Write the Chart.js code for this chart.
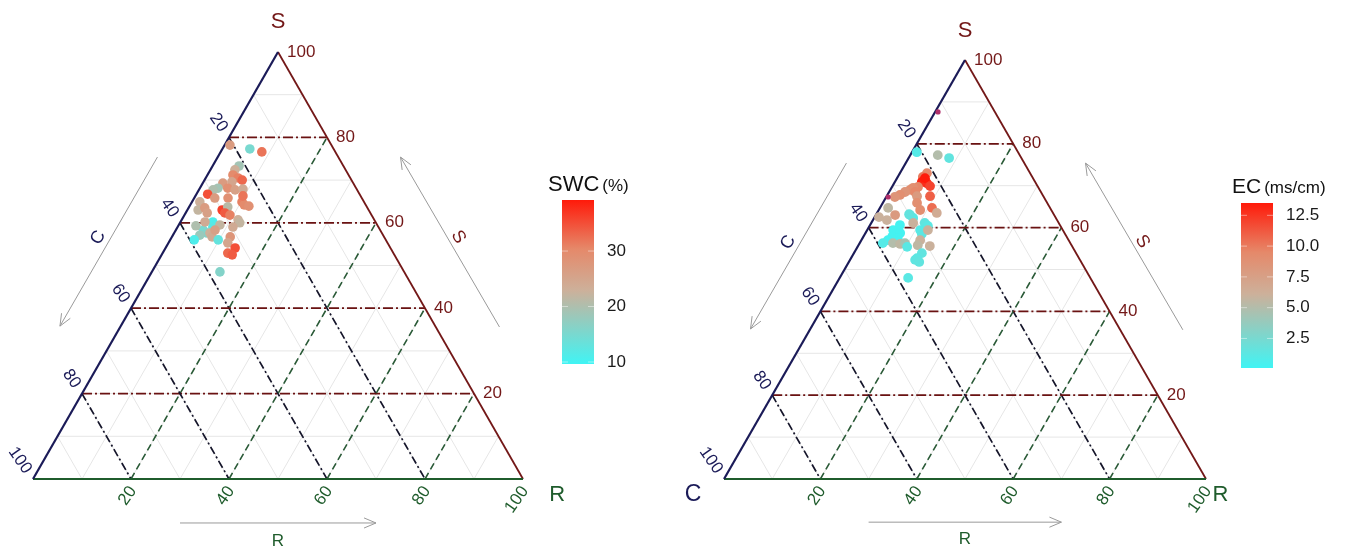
<!DOCTYPE html>
<html>
<head>
<meta charset="utf-8">
<script src="https://cdn.jsdelivr.net/npm/chart.js@4.4.1/dist/chart.umd.min.js"></script>
<style>
body{margin:0;background:#fff;}
#wrap{position:relative;width:1354px;height:546px;overflow:hidden;}
canvas{position:absolute;top:0;}
#left{left:0;}
#right{left:677px;}
</style>
</head>
<body>
<div id="wrap">
<canvas id="left" width="677" height="546"></canvas>
<canvas id="right" width="677" height="546"></canvas>
</div>
<script>
// ternary axes
var ternSteps = [10, 20, 30, 40, 50, 60, 70, 80, 90];
var ternMajor = [20, 40, 60, 80];
var ternTicks = [20, 40, 60, 80, 100];

// left panel: soil water content
var swcS = [78.2,77.3,76.6,73.3,72.4,71.2,70.5,70.0,69.6,69.3,68.1,67.7,66.7,68.1,67.7,67.9,65.8,64.9,64.9,64.2,63.9,63.0,63.7,62.3,61.8,63.0,63.5,62.3,60.2,59.0,58.3,57.6,57.1,57.6,56.7,56.0,56.0,60.7,60.0,59.0,56.7,55.3,54.1,52.9,52.5,48.5,65.8,60.2,59.5,59.3,58.3,66.3];
var swcC = [20.7,17.1,15.0,21.3,22.6,23.6,22.9,22.3,24.6,26.6,28.2,29.4,31.0,26.2,24.9,23.2,27.3,33.5,24.9,24.8,24.0,29.9,28.4,29.7,28.9,34.8,33.2,33.3,33.2,33.8,36.1,35.7,37.4,35.1,35.1,39.1,34.2,27.8,27.8,29.7,31.4,32.6,31.7,33.8,33.1,37.6,30.0,34.8,32.1,37.1,33.7,24.0];
var swcR = [1.1,5.6,8.4,5.4,5.0,5.2,6.6,7.7,5.8,4.1,3.7,2.9,2.3,5.7,7.4,8.9,6.9,1.6,10.2,11.0,12.1,7.1,7.9,8.0,9.3,2.2,3.3,4.4,6.6,7.2,5.6,6.7,5.5,7.3,8.2,4.9,9.8,11.5,12.2,11.3,11.9,12.1,14.2,13.3,14.4,13.9,4.2,5.0,8.4,3.6,8.0,9.7];
var swcVal = [27,15,32,19,23,30,31,33,25,27,19,20,35,29,26,24,29,23,31,30,29,36,21,34,31,22,27,26,11,12,15,16,18,23,24,11,13,23,22,24,28,25,35,33,34,16,27,24,22,20,26,32];
var swcTicks = [10, 20, 30];
var swcTickLabels = ["10", "20", "30"];

// right panel: electrical conductivity
var ecS = [87.6,78.0,77.3,76.6,73.0,72.1,70.9,70.6,71.8,69.9,69.7,69.5,69.0,68.5,67.8,67.3,68.5,67.5,67.5,67.3,65.9,64.7,63.5,64.7,63.0,63.0,62.3,64.2,61.8,61.1,61.1,60.4,59.4,58.5,59.4,59.4,58.7,58.7,57.8,57.0,57.5,60.6,56.3,56.3,56.1,56.3,55.4,57.0,55.8,55.6,53.9,52.7,52.3,51.8,48.0,63.2,62.5];
var ecC = [11.8,21.0,17.0,15.0,21.4,22.7,23.5,22.6,22.4,22.3,24.9,26.0,26.9,28.2,29.6,30.9,26.1,26.2,23.5,32.3,27.0,24.5,24.1,33.6,33.0,29.9,29.6,27.2,35.3,30.2,27.8,27.5,29.6,29.7,28.0,35.2,34.8,34.1,36.2,37.5,35.2,33.2,38.9,36.8,35.4,34.3,34.3,30.8,31.9,29.5,32.0,33.6,34.2,33.6,37.8,30.0,36.6];
var ecR = [0.6,1.0,5.7,8.4,5.6,5.2,5.6,6.8,5.8,7.8,5.4,4.5,4.1,3.3,2.6,1.8,5.4,6.3,9.0,0.4,7.1,10.8,12.4,1.7,4.0,7.1,8.1,8.6,2.9,8.7,11.1,12.1,11.0,11.8,12.6,5.4,6.5,7.2,6.0,5.5,7.3,6.2,4.8,6.9,8.5,9.4,10.3,12.2,12.3,14.9,14.1,13.7,13.5,14.6,14.2,6.8,0.9];
var ecVal = [13.3,1.0,5.0,1.5,9.5,10,13.2,12.8,13.5,12,9.5,9,9,8.5,9,8.5,9.5,8,11,13.3,9,10.5,6.5,5.5,8,1.5,1.2,9,6,6,1.5,1.2,1.0,1.3,6,0.3,0.3,0.3,0.3,0.3,0.3,0.3,1,5,5.5,4.5,1.2,6,5.5,6,1.5,1.3,1.4,1.5,1.2,1.6,6];
var ecTicks = [2.5, 5.0, 7.5, 10.0, 12.5];
var ecTickLabels = ["2.5", "5.0", "7.5", "10.0", "12.5"];

var FONT = '"Liberation Sans", Arial, sans-serif';
var NAVY = '#1b1b58', DRED = '#731818', DGREEN = '#1f5c2c';
var STOPS = [[0, [64,244,244]], [0.45, [205,176,154]], [0.7, [229,137,106]], [1, [255,26,10]]];

function rgb(a){ return 'rgb(' + a.map(Math.round).join(',') + ')'; }
function colourAt(f){
  f = Math.max(0, Math.min(1, f));
  for (var i = 1; i < STOPS.length; i++){
    if (f <= STOPS[i][0]){
      var a = STOPS[i-1], b = STOPS[i], t = (f - a[0]) / (b[0] - a[0]);
      return rgb([0,1,2].map(function(k){ return a[1][k] + t * (b[1][k] - a[1][k]); }));
    }
  }
  return rgb(STOPS[STOPS.length-1][1]);
}
function tern(s, c, r){ var t = s + c + r; return { x: (r + s / 2) / t, y: s / t, r: r }; }

var ternaryPlugin = {
  id: 'ternary',
  beforeDatasetsDraw: function(chart){
    var ctx = chart.ctx, xs = chart.scales.x, ys = chart.scales.y;
    function P(s, c, r){ var p = tern(s, c, r); return [xs.getPixelForValue(p.x), ys.getPixelForValue(p.y)]; }
    function seg(a, b, col, w, dash){
      ctx.beginPath(); ctx.strokeStyle = col; ctx.lineWidth = w; ctx.setLineDash(dash || []);
      ctx.moveTo(a[0], a[1]); ctx.lineTo(b[0], b[1]); ctx.stroke();
    }
    ctx.save();
    // fine grid
    ternSteps.forEach(function(v){
      seg(P(v, 100 - v, 0), P(v, 0, 100 - v), '#e6e6e6', 1);
      seg(P(100 - v, v, 0), P(0, v, 100 - v), '#e6e6e6', 1);
      seg(P(100 - v, 0, v), P(0, 100 - v, v), '#e6e6e6', 1);
    });
    // major dashed lines
    ternMajor.forEach(function(v){
      seg(P(100 - v, v, 0), P(0, v, 100 - v), '#15152a', 1.7, [8, 3, 2, 3]);
      seg(P(0, 100 - v, v), P(100 - v, 0, v), '#2a5a37', 1.6, [7, 4]);
      seg(P(v, 100 - v, 0), P(v, 0, 100 - v), '#6a1212', 1.8, [10, 3, 2, 3]);
    });
    // edges
    seg(P(100, 0, 0), P(0, 0, 100), DRED, 1.8);
    seg(P(0, 100, 0), P(0, 0, 100), DGREEN, 2.2);
    seg(P(100, 0, 0), P(0, 100, 0), NAVY, 2.2);
    ctx.restore();
  },
  afterDatasetsDraw: function(chart){
    var ctx = chart.ctx, xs = chart.scales.x, ys = chart.scales.y;
    var o = chart.options.plugins.ternary;
    function P(s, c, r){ var p = tern(s, c, r); return [xs.getPixelForValue(p.x), ys.getPixelForValue(p.y)]; }
    function N(x, y){ return [xs.getPixelForValue(x), ys.getPixelForValue(y)]; }
    function text(str, x, y, col, size, align, rot){
      ctx.save(); ctx.translate(x, y); if (rot) ctx.rotate(rot * Math.PI / 180);
      ctx.fillStyle = col; ctx.font = size + 'px ' + FONT; ctx.textAlign = align || 'center'; ctx.textBaseline = 'middle';
      ctx.fillText(str, 0, 0); ctx.restore();
    }
    function arrow(a, b){
      ctx.save(); ctx.strokeStyle = '#9a9a9a'; ctx.lineWidth = 1; ctx.setLineDash([]);
      ctx.beginPath(); ctx.moveTo(a[0], a[1]); ctx.lineTo(b[0], b[1]);
      var ang = Math.atan2(b[1] - a[1], b[0] - a[0]), L = 13, sp = 0.4;
      ctx.moveTo(b[0] - L * Math.cos(ang - sp), b[1] - L * Math.sin(ang - sp)); ctx.lineTo(b[0], b[1]);
      ctx.lineTo(b[0] - L * Math.cos(ang + sp), b[1] - L * Math.sin(ang + sp));
      ctx.stroke(); ctx.restore();
    }
    // tick labels
    ternTicks.forEach(function(v){
      var s = P(v, 0, 100 - v); text(String(v), s[0] + 9, s[1], DRED, 17, 'left');
      var c = P(100 - v, v, 0); text(String(v), c[0] - 5, c[1] - 7, NAVY, 17, 'right', 55);
      var r = P(0, 100 - v, v); text(String(v), r[0] + 2, r[1] + 9, DGREEN, 17, 'right', -55);
    });
    // axis titles
    var t = N(0.5, 1.07); text('S', t[0], t[1], DRED, 22);
    t = N(o.rTitleX, -0.037); text('R', t[0], t[1], DGREEN, 22);
    if (o.showC){ t = N(-0.064, -0.038); text('C', t[0], t[1], NAVY, 23); }
    // direction arrows
    arrow(N(0.254, 0.754), N(0.055, 0.358));
    arrow(N(0.952, 0.356), N(0.750, 0.754));
    arrow(N(0.30, -0.103), N(0.70, -0.103));
    t = N(0.133, 0.565); text('C', t[0], t[1], NAVY, 18, 'center', -60);
    t = N(0.868, 0.567); text('S', t[0], t[1], DRED, 18, 'center', 60);
    t = N(0.5, -0.145); text('R', t[0], t[1], DGREEN, 17);
    // colour bar
    var cb = o.bar;
    ctx.save();
    var g = ctx.createLinearGradient(0, cb.bottom, 0, cb.top);
    STOPS.forEach(function(s){ g.addColorStop(s[0], rgb(s[1])); });
    ctx.fillStyle = g; ctx.fillRect(cb.left, cb.top, cb.width, cb.bottom - cb.top);
    cb.ticks.forEach(function(v, i){
      var y = cb.bottom - (v - cb.min) / (cb.max - cb.min) * (cb.bottom - cb.top);
      ctx.strokeStyle = 'rgba(255,255,255,0.45)'; ctx.lineWidth = 1;
      ctx.beginPath(); ctx.moveTo(cb.left, y); ctx.lineTo(cb.left + 6, y);
      ctx.moveTo(cb.left + cb.width - 6, y); ctx.lineTo(cb.left + cb.width, y); ctx.stroke();
      text(cb.labels[i], cb.left + cb.width + 13, y, '#1a1a1a', 17, 'left');
    });
    ctx.fillStyle = '#111'; ctx.textBaseline = 'alphabetic'; ctx.textAlign = 'left';
    ctx.font = cb.titleSize + 'px ' + FONT; ctx.fillText(cb.title, cb.titleX, cb.titleY);
    var w = ctx.measureText(cb.title).width;
    ctx.font = cb.unitSize + 'px ' + FONT; ctx.fillText(cb.unit, cb.titleX + w + 3, cb.titleY);
    ctx.restore();
  }
};

function makeChart(id, S, C, R, V, pad, bar, opts){
  var pts = S.map(function(s, i){ return tern(s, C[i], R[i]); });
  var cols = V.map(function(v){ return colourAt((v - bar.min) / (bar.max - bar.min)); });
  // points sitting on the C edge are half hidden by it in the original
  var edgeCol = function(c){ var p = pts[c.dataIndex]; return p && p.r < 0.8 ? '#b0306a' : cols[c.dataIndex]; };
  var edgeRad = function(c){ var p = pts[c.dataIndex]; return p && p.r < 0.8 ? 2.6 : opts.radius; };
  return new Chart(document.getElementById(id), {
    type: 'scatter',
    data: { datasets: [{ data: pts, backgroundColor: edgeCol, borderColor: edgeCol, borderWidth: 0, pointRadius: edgeRad, clip: false }] },
    options: {
      responsive: false, animation: false, devicePixelRatio: 1,
      layout: { padding: pad },
      scales: {
        x: { type: 'linear', min: 0, max: 1, display: false },
        y: { type: 'linear', min: 0, max: 1, display: false }
      },
      plugins: { legend: { display: false }, tooltip: { enabled: false },
        ternary: { bar: bar, showC: opts.showC, rTitleX: opts.rTitleX } }
    },
    plugins: [ternaryPlugin]
  });
}

makeChart('left', swcS, swcC, swcR, swcVal,
  { left: 33, right: 154, top: 52, bottom: 67 },
  { left: 562, width: 32, top: 200, bottom: 364, min: 9.64, max: 39.2, ticks: swcTicks, labels: swcTickLabels,
    title: 'SWC', unit: '(%)', titleSize: 22, unitSize: 17, titleX: 548, titleY: 191 },
  { showC: false, rTitleX: 1.07, radius: 4.8 });

makeChart('right', ecS, ecC, ecR, ecVal,
  { left: 47, right: 148, top: 60, bottom: 67 },
  { left: 564, width: 32, top: 203, bottom: 368, min: 0.1, max: 13.5, ticks: ecTicks, labels: ecTickLabels,
    title: 'EC', unit: '(ms/cm)', titleSize: 21, unitSize: 17, titleX: 555, titleY: 193 },
  { showC: true, rTitleX: 1.03, radius: 4.9 });
</script>
</body>
</html>
